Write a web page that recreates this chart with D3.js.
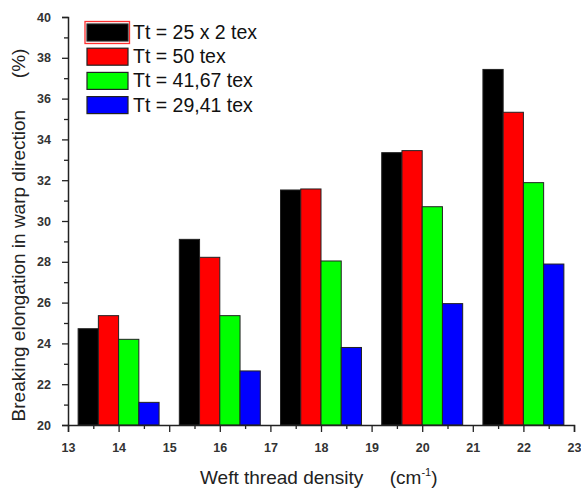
<!DOCTYPE html>
<html><head><meta charset="utf-8">
<script src="https://cdn.jsdelivr.net/npm/d3@7"></script>
<style>body{margin:0;background:#fff}svg{display:block}text{font-family:"Liberation Sans",Arial,sans-serif}</style>
</head><body><svg id="c" width="581" height="492"></svg>
<script>
const categories = [14, 16, 18, 20, 22];
const seriesNames = ["Tt = 25 x 2 tex", "Tt = 50 tex", "Tt = 41,67 tex", "Tt = 29,41 tex"];
const seriesColors = ["#000000", "#ff0000", "#00ff00", "#0000ff"];
const s1 = [24.72, 29.10, 31.52, 33.35, 37.43];
const s2 = [25.36, 28.22, 31.57, 33.45, 35.33];
const s3 = [24.20, 25.36, 28.04, 30.70, 31.88];
const s4 = [21.11, 22.65, 23.80, 25.95, 27.89];
const series = [s1, s2, s3, s4];
const xTicks = [13, 14, 15, 16, 17, 18, 19, 20, 21, 22, 23];
const yTicks = [20, 22, 24, 26, 28, 30, 32, 34, 36, 38, 40];

const svg = d3.select("#c");
const x = d3.scaleLinear().domain([13, 23]).range([68, 574]);
const y = d3.scaleLinear().domain([20, 40]).range([425, 17]);
const barW = 0.4;

// bars
series.forEach((vals, si) => {
  svg.append("g").selectAll("rect").data(vals).join("rect")
    .attr("x", (d, i) => x(categories[i] - 0.8 + si * barW))
    .attr("width", (d, i) => x(categories[i] - 0.8 + (si + 1) * barW) - x(categories[i] - 0.8 + si * barW))
    .attr("y", d => y(d))
    .attr("height", d => y(20) - y(d))
    .attr("fill", seriesColors[si])
    .attr("stroke", "#222").attr("stroke-width", 1);
});

// x axis
const xMinor = d3.range(13.5, 23, 1);
const gx = svg.append("g").attr("transform", `translate(0,${y(20)})`);
gx.call(d3.axisBottom(x).tickValues(xMinor).tickSize(4).tickFormat(""));
gx.select(".domain").remove();
gx.selectAll(".tick line").attr("stroke", "#222").attr("stroke-width", 1.3);
const gx2 = svg.append("g").attr("transform", `translate(0,${y(20)})`);
gx2.call(d3.axisBottom(x).tickValues(xTicks).tickSize(7).tickPadding(11).tickFormat(d3.format("d")));
gx2.select(".domain").attr("stroke", "#222").attr("stroke-width", 1.5);
gx2.selectAll(".tick line").attr("stroke", "#222").attr("stroke-width", 1.3);
gx2.selectAll(".tick text").attr("font-size", 12.5).attr("fill", "#333").attr("font-weight", "bold").attr("font-family", "Liberation Sans, Arial, sans-serif");

// y axis
const yMinor = d3.range(21, 40, 2);
const gy = svg.append("g").attr("transform", `translate(${x(13)},0)`);
gy.call(d3.axisLeft(y).tickValues(yMinor).tickSize(4).tickFormat(""));
gy.select(".domain").remove();
gy.selectAll(".tick line").attr("stroke", "#222").attr("stroke-width", 1.3);
const gy2 = svg.append("g").attr("transform", `translate(${x(13)},0)`);
gy2.call(d3.axisLeft(y).tickValues(yTicks).tickSize(6).tickPadding(11).tickFormat(d3.format("d")));
gy2.select(".domain").attr("stroke", "#222").attr("stroke-width", 1.5);
gy2.selectAll(".tick line").attr("stroke", "#222").attr("stroke-width", 1.3);
gy2.selectAll(".tick text").attr("font-size", 12.5).attr("fill", "#333").attr("font-weight", "bold").attr("font-family", "Liberation Sans, Arial, sans-serif");

// axis titles
const xt = svg.append("text").attr("x", 200).attr("y", 484).attr("text-anchor", "start")
  .attr("font-size", 19).attr("fill", "#222");
xt.append("tspan").text("Weft thread density\u00a0\u00a0\u00a0\u00a0\u00a0(cm");
xt.append("tspan").attr("dy", -8).attr("font-size", 11).text("-1");
xt.append("tspan").attr("dy", 8).text(")");

svg.append("text").attr("transform", `translate(25,235) rotate(-90)`).attr("text-anchor", "middle")
  .attr("font-size", 19).attr("fill", "#222")
  .text("Breaking elongation in warp direction\u00a0\u00a0\u00a0\u00a0\u00a0\u00a0(%)");

// legend
const lg = svg.append("g");
seriesNames.forEach((n, i) => {
  const yy = 24 + i * 24.2;
  if (i === 0) {
    lg.append("rect").attr("x", 85).attr("y", yy - 2.5).attr("width", 44.5).attr("height", 22)
      .attr("fill", "none").attr("stroke", "#ff3030").attr("stroke-width", 1.3);
  }
  lg.append("rect").attr("x", 87).attr("y", yy).attr("width", 41).attr("height", 17)
    .attr("fill", seriesColors[i]).attr("stroke", "#222").attr("stroke-width", 1.2);
  lg.append("text").attr("x", 133).attr("y", yy + 15).attr("font-size", 19.5).attr("fill", "#111").text(n);
});
</script></body></html>
